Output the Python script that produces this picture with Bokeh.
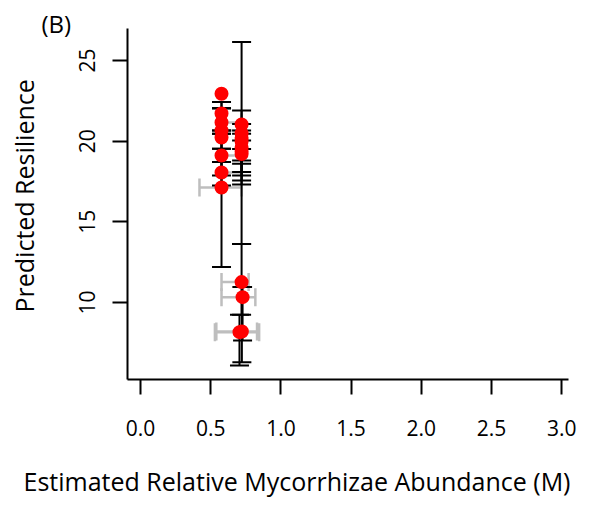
from bokeh.embed import file_html
from bokeh.models import (ColumnDataSource, FixedTicker, LinearAxis,
                          PrintfTickFormatter, Range1d, TeeHead, Title,
                          Whisker)
from bokeh.plotting import figure
from bokeh.resources import INLINE

# Estimated relative mycorrhizae abundance (M) per site
m_est = [0.577, 0.577, 0.577, 0.577, 0.577, 0.577, 0.577, 0.577,
         0.720, 0.720, 0.720, 0.720, 0.720, 0.720, 0.720,
         0.720, 0.727, 0.705, 0.722]
# Predicted resilience and its interval
resilience = [22.94, 21.71, 21.16, 20.66, 20.23, 19.11, 18.06, 17.13,
              21.03, 20.47, 19.98, 19.36, 20.20, 19.60, 19.20,
              11.26, 10.33, 8.16, 8.20]
res_lo = [22.04, 20.46, 20.66, 19.53, 18.70, 17.87, 17.25, 12.19,
          18.80, 18.08, 13.63, 17.31, 17.56, 17.87, 18.60,
          9.24, 7.64, 6.09, 6.30]
res_hi = [22.42, 22.04, 22.42, 22.04, 20.66, 20.46, 19.53, 18.70,
          21.90, 21.07, 26.14, 20.66, 20.46, 20.04, 19.52,
          13.63, 10.95, 9.24, 10.95]
# Interval of the abundance estimate (None where not reported)
m_lo = [None, None, 0.577, 0.577, None, 0.577, 0.577, 0.420,
        None, None, None, None, None, None, None,
        0.577, 0.577, 0.530, 0.540]
m_hi = [None, None, 0.720, 0.720, None, 0.720, 0.720, 0.720,
        None, None, None, None, None, None, None,
        0.770, 0.818, 0.845, 0.830]

x_ticks = [0.0, 0.5, 1.0, 1.5, 2.0, 2.5, 3.0]
y_ticks = [10, 15, 20, 25]

FONT = "Open Sans"

p = figure(width=609, height=506, output_backend="svg", toolbar_location=None,
           x_range=Range1d(-0.0926, 3.0484), y_range=Range1d(5.223, 26.984),
           min_border_left=127, min_border_right=41,
           min_border_top=28, min_border_bottom=127)
p.outline_line_color = None
p.grid.visible = False
p.background_fill_color = "white"
p.border_fill_color = "white"

for ax in (p.xaxis[0], p.yaxis[0]):
    ax.axis_line_color = "black"
    ax.axis_line_width = 2
    ax.major_tick_line_color = "black"
    ax.major_tick_line_width = 2
    ax.major_tick_out = 15
    ax.major_tick_in = 0
    ax.minor_tick_line_color = None
    ax.major_label_text_font = FONT
    ax.major_label_text_font_size = "21px"
    ax.major_label_text_color = "black"

p.xaxis.ticker = FixedTicker(ticks=x_ticks)
p.xaxis.formatter = PrintfTickFormatter(format="%.1f")
p.xaxis.major_label_standoff = 25
p.yaxis.ticker = FixedTicker(ticks=y_ticks)
p.yaxis.major_label_orientation = "vertical"
p.yaxis.major_label_standoff = 17


def gap_axis(size, tick):
    """A blank axis that only reserves space between an axis and its title."""
    return LinearAxis(ticker=FixedTicker(ticks=[tick]),
                      major_label_overrides={tick: ""},
                      axis_line_color=None,
                      major_tick_line_color=None, minor_tick_line_color=None,
                      major_tick_out=size, major_tick_in=0,
                      minor_tick_out=0, minor_tick_in=0,
                      major_label_standoff=0)


p.add_layout(gap_axis(23, 1), "below")
p.add_layout(gap_axis(36, 10), "left")

# Horizontal (abundance) intervals in grey, drawn underneath
xi = [i for i in range(len(m_est)) if m_lo[i] is not None]
xsrc = ColumnDataSource(dict(base=[resilience[i] for i in xi],
                             lower=[m_lo[i] for i in xi],
                             upper=[m_hi[i] for i in xi]))
grey = "#BEBEBE"
xw = Whisker(source=xsrc, base="base", lower="lower", upper="upper",
             dimension="width", level="underlay",
             line_color=grey, line_width=2.5,
             lower_head=TeeHead(size=18, line_color=grey, line_width=2.5),
             upper_head=TeeHead(size=18, line_color=grey, line_width=2.5))
p.add_layout(xw)

# Vertical (resilience) intervals in black
ysrc = ColumnDataSource(dict(base=m_est, lower=res_lo, upper=res_hi))
yw = Whisker(source=ysrc, base="base", lower="lower", upper="upper",
             dimension="height", level="underlay",
             line_color="black", line_width=2,
             lower_head=TeeHead(size=19, line_color="black", line_width=2),
             upper_head=TeeHead(size=19, line_color="black", line_width=2))
p.add_layout(yw)

# Point estimates
p.scatter(x=m_est, y=resilience, size=14, fill_color="#FF0000",
          line_color=None)

# Axis titles
p.add_layout(Title(text="Estimated Relative Mycorrhizae Abundance (M)",
                   align="left", offset=-104, standoff=0,
                   text_font=FONT, text_font_size="25px",
                   text_font_style="normal", text_color="black"), "below")
p.add_layout(Title(text="Predicted Resilience",
                   align="left", offset=67, standoff=0,
                   text_font=FONT, text_font_size="25px",
                   text_font_style="normal", text_color="black"), "left")

# Panel tag in the top-left corner
tag_style = dict(text="(B)", align="left", offset=-86,
                 text_font=FONT, text_font_size="24px",
                 text_font_style="normal", text_color="black")
try:
    tag = Title(standoff=-22, **tag_style)
except ValueError:
    tag = Title(standoff=0, **tag_style)
p.add_layout(tag, "above")

open("out.html", "w").write(file_html(p, INLINE))
